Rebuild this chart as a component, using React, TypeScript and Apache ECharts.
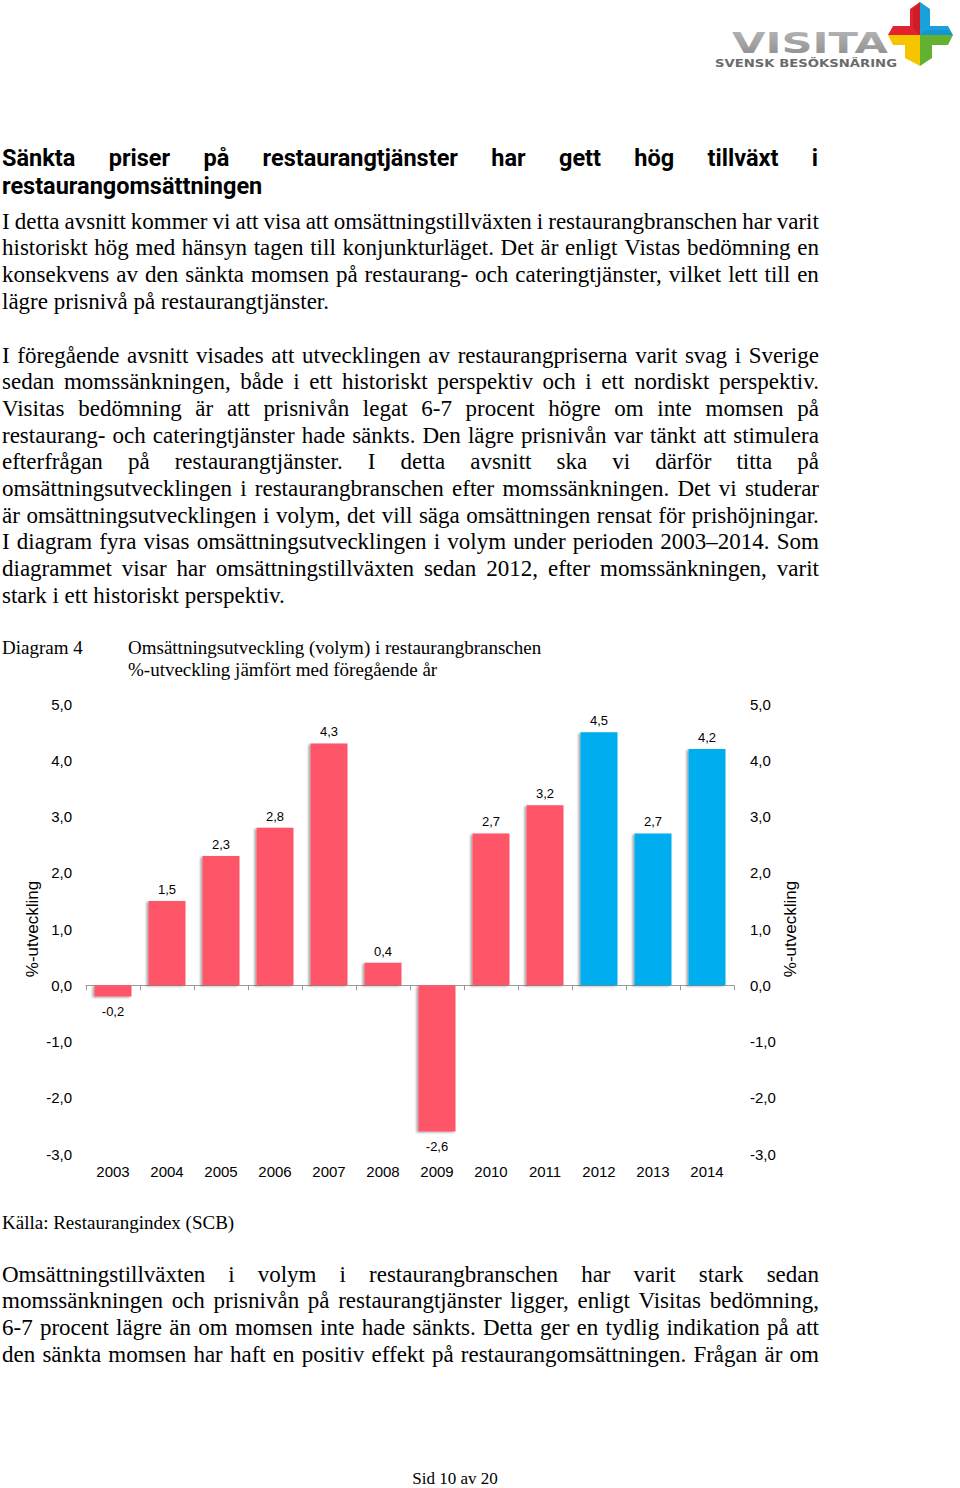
import React, { useEffect, useRef } from "react";
import * as echarts from "echarts";

// ---------- Data ----------
const years = ["2003", "2004", "2005", "2006", "2007", "2008", "2009", "2010", "2011", "2012", "2013", "2014"];
const growth = [-0.2, 1.5, 2.3, 2.8, 4.3, 0.4, -2.6, 2.7, 3.2, 4.5, 2.7, 4.2];
const afterVatCutYears = ["2012", "2013", "2014"];
const yMin = -3;
const yMax = 5;
const yStep = 1;
const axisName = "%-utveckling";

const diagramLabel = "Diagram 4";
const chartTitle = "Omsättningsutveckling (volym) i restaurangbranschen";
const chartSubtitle = "%-utveckling jämfört med föregående år";
const sourceText = "Källa: Restaurangindex (SCB)";
const footerText = "Sid 10 av 20";

const headingLines = [
  "Sänkta priser på restaurangtjänster har gett hög tillväxt i",
  "restaurangomsättningen",
];
const para1 = [
  "I detta avsnitt kommer vi att visa att omsättningstillväxten i restaurangbranschen har varit",
  "historiskt hög med hänsyn tagen till konjunkturläget. Det är enligt Vistas bedömning en",
  "konsekvens av den sänkta momsen på restaurang- och cateringtjänster, vilket lett till en",
  "lägre prisnivå på restaurangtjänster.",
];
const para2 = [
  "I föregående avsnitt visades att utvecklingen av restaurangpriserna varit svag i Sverige",
  "sedan momssänkningen, både i ett historiskt perspektiv och i ett nordiskt perspektiv.",
  "Visitas bedömning är att prisnivån legat 6-7 procent högre om inte momsen på",
  "restaurang- och cateringtjänster hade sänkts. Den lägre prisnivån var tänkt att stimulera",
  "efterfrågan på restaurangtjänster. I detta avsnitt ska vi därför titta på",
  "omsättningsutvecklingen i restaurangbranschen efter momssänkningen. Det vi studerar",
  "är omsättningsutvecklingen i volym, det vill säga omsättningen rensat för prishöjningar.",
  "I diagram fyra visas omsättningsutvecklingen i volym under perioden 2003–2014. Som",
  "diagrammet visar har omsättningstillväxten sedan 2012, efter momssänkningen, varit",
  "stark i ett historiskt perspektiv.",
];
const para3 = [
  "Omsättningstillväxten i volym i restaurangbranschen har varit stark sedan",
  "momssänkningen och prisnivån på restaurangtjänster ligger, enligt Visitas bedömning,",
  "6-7 procent lägre än om momsen inte hade sänkts. Detta ger en tydlig indikation på att",
  "den sänkta momsen har haft en positiv effekt på restaurangomsättningen. Frågan är om",
];

// ---------- Styles ----------
const SERIF = "'Liberation Serif', 'Times New Roman', serif";
const SANS = "'Liberation Sans', Arial, sans-serif";
const HEAD = "Roboto, 'Noto Sans', sans-serif";
const RED = "#FF5569";
const BLUE = "#00AEEF";

type LineProps = {
  text: string;
  baseline: number;
  left: number;
  width?: number;
  size: number;
  family: string;
  weight?: number;
  justify?: boolean;
  asc: number;
  desc: number;
  lh: number;
  center?: boolean;
};

function TextLine(p: LineProps) {
  const top = p.baseline - ((p.lh - (p.asc + p.desc) * p.size) / 2 + p.asc * p.size);
  const base: React.CSSProperties = {
    position: "absolute",
    left: p.left,
    top,
    height: p.lh,
    lineHeight: `${p.lh}px`,
    fontSize: p.size,
    fontFamily: p.family,
    fontWeight: p.weight || 400,
    color: "#000",
    whiteSpace: "nowrap",
  };
  if (p.justify && p.width) {
    const words = p.text.split(" ");
    return (
      <div style={{ ...base, width: p.width, display: "flex", justifyContent: "space-between" }}>
        {words.map((w, i) => (
          <span key={i} style={{ whiteSpace: "nowrap" }}>
            {w}
          </span>
        ))}
      </div>
    );
  }
  if (p.center && p.width) {
    return <div style={{ ...base, width: p.width, textAlign: "center" }}>{p.text}</div>;
  }
  return <div style={base}>{p.text}</div>;
}

function Paragraph({ lines, firstBaseline, spacing, justifyLast }: { lines: string[]; firstBaseline: number; spacing: number; justifyLast?: boolean }) {
  return (
    <>
      {lines.map((t, i) => (
        <TextLine
          key={i}
          text={t}
          baseline={firstBaseline + i * spacing}
          left={2}
          width={817}
          size={23}
          family={SERIF}
          asc={0.891}
          desc={0.216}
          lh={27}
          justify={i < lines.length - 1 || !!justifyLast}
        />
      ))}
    </>
  );
}

function Logo() {
  return (
    <svg width={260} height={80} style={{ position: "absolute", left: 700, top: 0 }}>
      <defs>
        <linearGradient id="visitaGrad" x1="0" y1="0" x2="0" y2="1">
          <stop offset="0" stopColor="#b8b8b8" />
          <stop offset="1" stopColor="#8c8c8c" />
        </linearGradient>
      </defs>
      <text
        x={32}
        y={53}
        fontFamily="'DejaVu Sans', sans-serif"
        fontWeight="bold"
        fontSize={27.5}
        fill="url(#visitaGrad)"
        textLength={156}
        lengthAdjust="spacingAndGlyphs"
      >
        VISITA
      </text>
      <text
        x={15}
        y={67}
        fontFamily="'DejaVu Sans', sans-serif"
        fontWeight="bold"
        fontSize={10.5}
        fill="#6a6a6a"
        textLength={182}
        lengthAdjust="spacingAndGlyphs"
      >
        SVENSK BESÖKSNÄRING
      </text>
      <polygon points="220,2 220,35 188,35 193,26 210,26 210,9" fill="#E2232F" />
      <polygon points="220,2 220,35 253,35 248,26 230,26 230,9" fill="#1AA0DC" />
      <polygon points="220,35 188,35 193,45 205,45 205,58 220,66" fill="#F6C500" />
      <polygon points="220,35 253,35 248,45 232,45 232,58 220,66" fill="#62B130" />
      <polygon points="220,2 220,35 213,28 213,9" fill="#B8161F" opacity={0.5} />
      <polygon points="220,35 253,35 248,30 226,30" fill="#0E7FB5" opacity={0.35} />
    </svg>
  );
}

function Chart() {
  const ref = useRef<HTMLDivElement>(null);
  useEffect(() => {
    if (!ref.current) return;
    const chart = echarts.init(ref.current, undefined, { renderer: "svg" });
    const fmt = (v: number) => v.toFixed(1).replace(".", ",");
    const labelFont = { fontFamily: SANS, color: "#000" };
    chart.setOption({
      animation: false,
      grid: { left: 86, right: 226, top: 14, bottom: 46, containLabel: false, outerBoundsMode: "none" },
      xAxis: [
        {
          type: "category",
          data: years,
          position: "bottom",
          axisLine: { show: false, onZero: false },
          axisTick: { show: false },
          splitLine: { show: false },
          axisLabel: { margin: 10, fontSize: 15, ...labelFont },
        },
        {
          type: "category",
          data: years,
          position: "bottom",
          axisLine: { show: true, onZero: true, lineStyle: { color: "#9a9a9a", width: 1 } },
          axisTick: { show: true, length: 5, lineStyle: { color: "#9a9a9a" } },
          splitLine: { show: false },
          axisLabel: { show: false },
        },
      ],
      yAxis: [
        {
          type: "value",
          position: "left",
          min: yMin,
          max: yMax,
          interval: yStep,
          axisLine: { show: false },
          axisTick: { show: false },
          splitLine: { show: false },
          axisLabel: { formatter: fmt, margin: 14, fontSize: 15, ...labelFont },
          name: axisName,
          nameLocation: "middle",
          nameRotate: 90,
          nameGap: 45,
          nameMoveOverlap: false,
          nameTextStyle: { fontSize: 17, ...labelFont },
        },
        {
          type: "value",
          position: "right",
          min: yMin,
          max: yMax,
          interval: yStep,
          axisLine: { show: false },
          axisTick: { show: false },
          splitLine: { show: false },
          axisLabel: { formatter: fmt, margin: 16, fontSize: 15, ...labelFont },
          name: axisName,
          nameLocation: "middle",
          nameRotate: 90,
          nameGap: 48,
          nameMoveOverlap: false,
          nameTextStyle: { fontSize: 17, ...labelFont },
        },
      ],
      series: [
        {
          type: "bar",
          xAxisIndex: 0,
          yAxisIndex: 0,
          barWidth: 37,
          data: growth.map((v, i) => ({
            value: v,
            itemStyle: { color: afterVatCutYears.includes(years[i]) ? BLUE : RED },
            label: { position: v < 0 ? "bottom" : "top", distance: v < 0 ? 8 : 5 },
          })),
          itemStyle: {
            shadowColor: "rgba(0,0,0,0.35)",
            shadowBlur: 2,
            shadowOffsetX: -2,
            shadowOffsetY: 1,
          },
          label: {
            show: true,
            distance: 5,
            fontSize: 13,
            ...labelFont,
            formatter: (p: any) => fmt(p.value),
          },
        },
      ],
    });
    return () => chart.dispose();
  }, []);
  return <div ref={ref} style={{ position: "absolute", left: 0, top: 690, width: 960, height: 510 }} />;
}

export default function App() {
  return (
    <div style={{ position: "absolute", left: 0, top: 0, width: 960, height: 1488, background: "#fff", overflow: "hidden" }}>
      <Logo />
      {headingLines.map((t, i) => (
        <TextLine
          key={i}
          text={t}
          baseline={166 + i * 28}
          left={2}
          width={816}
          size={23.5}
          family={HEAD}
          weight={700}
          asc={0.928}
          desc={0.244}
          lh={28}
          justify={i === 0}
        />
      ))}
      <Paragraph lines={para1} firstBaseline={229} spacing={26.67} />
      <Paragraph lines={para2} firstBaseline={363} spacing={26.67} />

      <TextLine text={diagramLabel} baseline={654} left={2} size={19} family={SERIF} asc={0.891} desc={0.216} lh={22} />
      <TextLine text={chartTitle} baseline={654} left={128} size={19} family={SERIF} asc={0.891} desc={0.216} lh={22} />
      <TextLine text={chartSubtitle} baseline={676} left={128} size={19} family={SERIF} asc={0.891} desc={0.216} lh={22} />

      <Chart />

      <TextLine text={sourceText} baseline={1229} left={2} size={19} family={SERIF} asc={0.891} desc={0.216} lh={22} />
      <Paragraph lines={para3} firstBaseline={1282} spacing={26.67} justifyLast />
      <TextLine text={footerText} baseline={1485} left={355} width={200} center size={17} family={SERIF} asc={0.891} desc={0.216} lh={20} />
    </div>
  );
}
